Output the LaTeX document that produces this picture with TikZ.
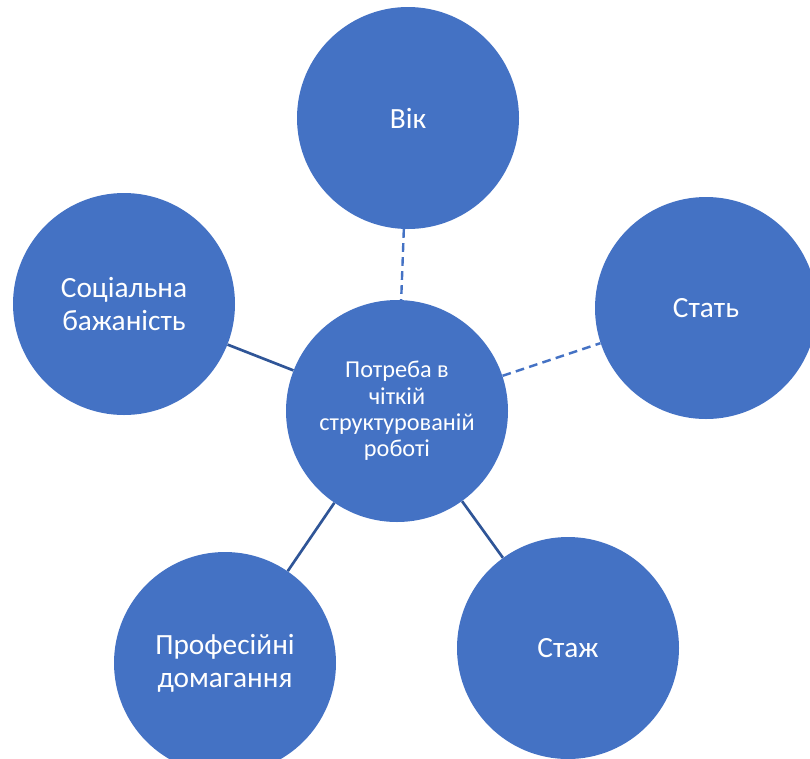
\documentclass[tikz,border=0pt]{standalone}
\usepackage{fontspec}
\setmainfont{Carlito}
\definecolor{light}{RGB}{68, 114, 196}
\definecolor{dark}{RGB}{47, 85, 151}

\begin{document}
\begin{tikzpicture}[x=0.75pt, y=-0.75pt,
  bubble/.style={circle, fill=light, inner sep=0pt, minimum size=166.5pt,
    text=white, align=center, font=\fontsize{22}{25}\selectfont},
  firm/.style={draw=dark, line width=2pt},
  loose/.style={draw=light, line width=1.8pt, dash pattern=on 6.5pt off 4pt}]
  \useasboundingbox (0, 0) rectangle (810, 758);
  \clip (0, 0) rectangle (810, 758);

  \node[bubble, font=\fontsize{18.2}{19.8}\selectfont] (need) at (397, 411)
    {Потреба в\\чіткій\\структурованій\\роботі};
  \node[bubble] (age) at (408, 118) {Вік};
  \node[bubble] (sex) at (706, 308) {Стать};
  \node[bubble] (social) at (124, 304) {Соціальна\\бажаність};
  \node[bubble] (claims) at (225, 663) {Професійні\\домагання};
  \node[bubble] (tenure) at (568, 648) {Стаж};

  \draw[loose] (age) -- (need);
  \draw[loose] (need) -- (sex);
  \foreach \n in {social, claims, tenure} {
    \draw[firm] (\n) -- (need);
  }
\end{tikzpicture}
\end{document}
